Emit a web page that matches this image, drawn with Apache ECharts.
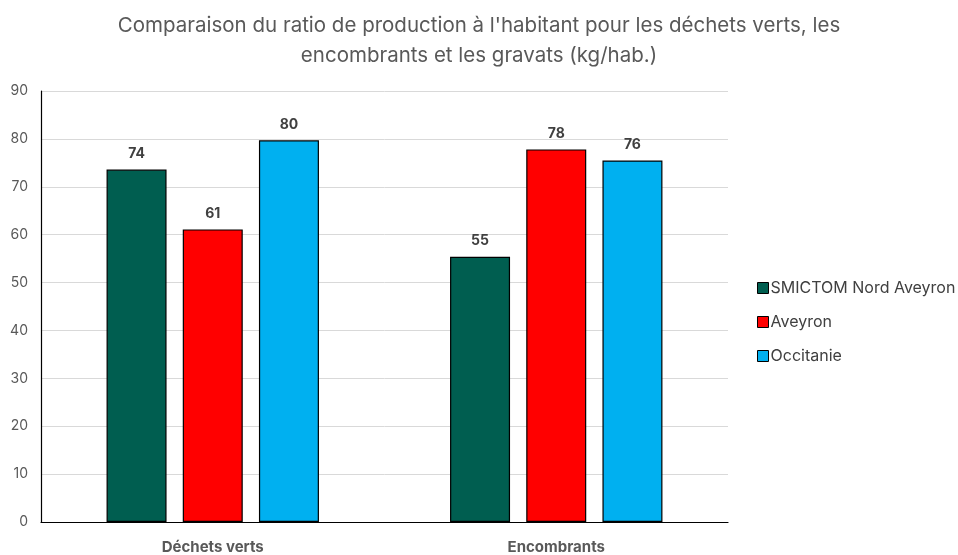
<!DOCTYPE html>
<html>
<head>
<meta charset="utf-8">
<script src="https://cdn.jsdelivr.net/npm/echarts@6/dist/echarts.min.js"></script>
<style>
  html, body { margin: 0; padding: 0; background: #fff; }
  #chart { width: 958px; height: 555px; }
</style>
</head>
<body>
<div id="chart"></div>
<script>
// Data
const categories = ['Déchets verts', 'Encombrants'];
const seriesNames = ['SMICTOM Nord Aveyron', 'Aveyron', 'Occitanie'];
const smictomValues = [73.6, 55.4];
const aveyronValues = [61.1, 77.8];
const occitanieValues = [79.7, 75.5];
const yTicks = [0, 10, 20, 30, 40, 50, 60, 70, 80, 90];

const colors = ['#005e50', '#ff0000', '#00b0f0'];
const fontFamily = 'Inter, "Noto Sans", sans-serif';

const chart = echarts.init(document.getElementById('chart'));

function makeSeries(name, data, color) {
  return {
    name: name,
    type: 'bar',
    data: data,
    barWidth: 60,
    barGap: '27%',
    itemStyle: { color: color, borderColor: '#000', borderWidth: 1.2 },
    label: {
      show: true,
      position: 'top',
      distance: 9,
      color: '#404040',
      fontSize: 14,
      fontWeight: 'bold',
      fontFamily: fontFamily,
      formatter: p => Math.round(p.value)
    }
  };
}

const option = {
  backgroundColor: '#fff',
  animation: false,
  title: {
    text: "Comparaison du ratio de production à l'habitant pour les déchets verts, les\nencombrants et les gravats (kg/hab.)",
    left: 'center',
    top: 6,
    textStyle: {
      color: '#595959',
      fontSize: 20.5,
      fontWeight: 'normal',
      fontFamily: fontFamily,
      lineHeight: 30
    }
  },
  legend: {
    orient: 'vertical',
    left: 752,
    top: 275,
    itemWidth: 11,
    itemHeight: 11,
    itemGap: 18,
    icon: 'rect',
    itemStyle: { borderColor: '#000', borderWidth: 1 },
    textStyle: { color: '#404040', fontSize: 16, fontFamily: fontFamily, padding: [0, 0, 0, -3] },
    data: seriesNames
  },
  grid: {
    left: 41,
    right: 230,
    top: 91,
    bottom: 32,
    containLabel: false
  },
  xAxis: {
    type: 'category',
    data: categories,
    axisLine: { show: true, lineStyle: { color: '#000', width: 1.2 } },
    axisTick: { show: false },
    axisLabel: {
      color: '#595959',
      fontSize: 15,
      fontWeight: 'bold',
      fontFamily: fontFamily,
      margin: 18
    }
  },
  yAxis: {
    type: 'value',
    min: yTicks[0],
    max: yTicks[yTicks.length - 1],
    interval: 10,
    axisLine: { show: true, lineStyle: { color: '#000', width: 1.2 } },
    axisTick: { show: false },
    axisLabel: {
      color: '#595959',
      fontSize: 14,
      fontFamily: fontFamily,
      margin: 13
    },
    splitLine: { lineStyle: { color: '#d9d9d9', width: 1 } }
  },
  series: [
    makeSeries(seriesNames[0], smictomValues, colors[0]),
    makeSeries(seriesNames[1], aveyronValues, colors[1]),
    makeSeries(seriesNames[2], occitanieValues, colors[2])
  ]
};

chart.setOption(option);
</script>
</body>
</html>
